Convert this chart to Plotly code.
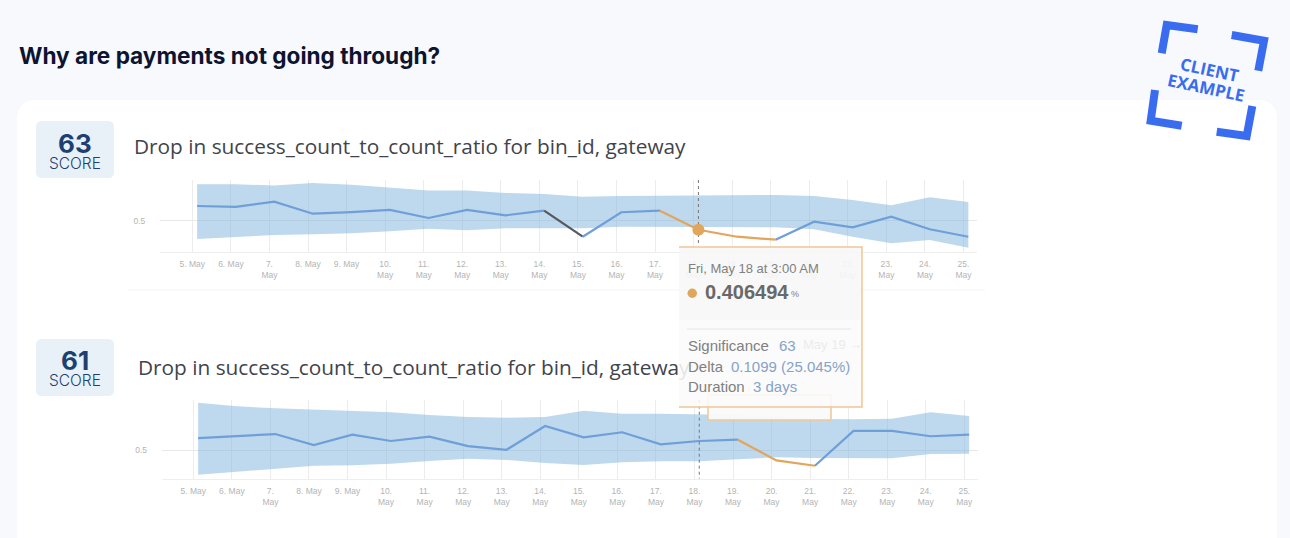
import plotly.graph_objects as go
from plotly.subplots import make_subplots

days = [5, 6, 7, 8, 9, 10, 11, 12, 13, 14, 15, 16, 17, 18, 19, 20, 21, 22, 23, 24, 25]
tick_labels = ['5. May', '6. May', '7.<br>May', '8. May', '9. May', '10.<br>May', '11.<br>May',
               '12.<br>May', '13.<br>May', '14.<br>May', '15.<br>May', '16.<br>May', '17.<br>May',
               '18.<br>May', '19.<br>May', '20.<br>May', '21.<br>May', '22.<br>May', '23.<br>May',
               '24.<br>May', '25.<br>May']

ratio_1 = [.661, .651, .708, .578, .594, .618, .532, .618, .561, .611, .331,
           .594, .611, .406, .331, .299, .492, .432, .546, .411, .331]
upper_1 = [.895, .895, .880, .909, .890, .858, .826, .826, .801, .790, .761,
           .769, .772, .772, .776, .780, .769, .726, .669, .755, .704]
lower_1 = [.306, .325, .349, .357, .368, .389, .417, .400, .422, .422, .422,
           .439, .439, .439, .432, .432, .411, .331, .260, .296, .213]

ratio_2 = [.632, .657, .675, .557, .668, .600, .646, .546, .506, .761, .640,
           .694, .565, .600, .614, .392, .334, .708, .708, .651, .668]
upper_2 = [1.012, .973, .952, .937, .919, .909, .880, .858, .851, .858, .926,
           .894, .894, .890, .880, .861, .837, .833, .840, .909, .869]
lower_2 = [.238, .270, .310, .334, .339, .356, .385, .410, .396, .363, .342,
           .371, .382, .382, .403, .425, .417, .414, .414, .460, .463]

BLUE = '#6f9fd8'
ORANGE = '#e2a55c'
DARK = '#55585f'
NAVY = '#1f3f70'
STAMP = '#3a6cf0'
W, H = 1290, 538

ticks = [f'2018-05-{d:02d}' for d in days]
points = [f'2018-05-{d:02d} 03:00' for d in days]


def rounded(x0, y0, x1, y1, r):
    """Rounded rectangle path, pixels in, paper coordinates out"""
    nodes = [('M', x0+r, y0), ('L', x1-r, y0), ('Q', x1, y0), ('', x1, y0+r), ('L', x1, y1-r), ('Q', x1, y1), ('', x1-r, y1),
             ('L', x0+r, y1), ('Q', x0, y1), ('', x0, y1-r), ('L', x0, y0+r), ('Q', x0, y0), ('', x0+r, y0)]
    return ' '.join(f'{c} {x/W:.5f} {1-y/H:.5f}' for c, x, y in nodes) + ' Z'


def add_chart(fig, row, ratio, upper, lower, segments):
    """Band, coloured line segments for one metric"""
    fig.add_trace(go.Scatter(x=points, y=lower, mode='lines', line=dict(width=0), showlegend=False), row=row, col=1)
    fig.add_trace(go.Scatter(x=points, y=upper, mode='lines', line=dict(width=0), fill='tonexty',
                             fillcolor='rgba(130,180,220,0.52)', showlegend=False), row=row, col=1)
    for start, end, color in segments:
        fig.add_trace(go.Scatter(x=points[start:end+1], y=ratio[start:end+1], mode='lines',
                                 line=dict(color=color, width=2.2), showlegend=False), row=row, col=1)


fig = make_subplots(rows=2, cols=1)

add_chart(fig, 1, ratio_1, upper_1, lower_1,
          [(0, 9, BLUE), (9, 10, DARK), (10, 12, BLUE), (12, 15, ORANGE), (15, 20, BLUE)])
add_chart(fig, 2, ratio_2, upper_2, lower_2,
          [(0, 14, BLUE), (14, 16, ORANGE), (16, 20, BLUE)])

# dotted cursor at May 18 in both charts
fig.add_trace(go.Scatter(x=[points[13], points[13]], y=[.94, .263], mode='lines',
                         line=dict(color='#777', width=1, dash='dot'), showlegend=False), row=1, col=1)
fig.add_trace(go.Scatter(x=[points[13], points[13]], y=[1.044, .195], mode='lines',
                         line=dict(color='#777', width=1, dash='dot'), showlegend=False), row=2, col=1)
fig.add_trace(go.Scatter(x=[points[13]], y=[ratio_1[13]], mode='markers',
                         marker=dict(color=ORANGE, size=12), showlegend=False), row=1, col=1)

axis_x = dict(type='date', tickmode='array', tickvals=ticks, ticktext=tick_labels, showgrid=True,
              gridcolor='#ececec', gridwidth=1, showline=True, linecolor='#eeeeee', zeroline=False,
              ticks='outside', ticklen=4, tickcolor='rgba(0,0,0,0)',
              tickfont=dict(family='Liberation Sans', size=8.5, color='#b4b4b4'), tickangle=0)
axis_y = dict(tickmode='array', tickvals=[0.5], ticktext=['0.5'], showgrid=True, gridcolor='#e8e8e8',
              zeroline=False, showline=False, ticks='outside', ticklen=12, tickcolor='rgba(0,0,0,0)',
              tickfont=dict(family='Liberation Sans', size=8.5, color='#b4b4b4'))

fig.update_xaxes(axis_x)
fig.update_yaxes(axis_y)
fig.update_layout(
    xaxis=dict(domain=[160/W, 977/W], range=['2018-05-04 03:53', '2018-05-25 08:24']),
    yaxis=dict(domain=[1-251.7/H, 1-180/H], range=[.17, .94]),
    xaxis2=dict(domain=[161.7/W, 977.7/W], range=['2018-05-04 04:19', '2018-05-25 08:20']),
    yaxis2=dict(domain=[1-478.7/H, 1-399.7/H], range=[.195, 1.044]),
    # extra axes in page pixels for the page furniture
    xaxis3=dict(domain=[0, 1], range=[0, W], visible=False, anchor='y3', showgrid=False, zeroline=False),
    yaxis3=dict(domain=[0, 1], range=[H, 0], visible=False, anchor='x3', showgrid=False, zeroline=False),
)

# second heading goes under the tooltip, so it has to be a trace and not an annotation
fig.add_trace(go.Scatter(x=[138], y=[370], mode='text', text=['Drop in success_count_to_count_ratio for bin_id, gateway'],
                         textposition='middle right', xaxis='x3', yaxis='y3', showlegend=False,
                         textfont=dict(family='Open Sans', size=20.8, color='#3f444c')))

below = [
    dict(type='path', path=rounded(17, 100, 1277, 580, 20), fillcolor='white', line_width=0),
    dict(type='path', path=rounded(36, 121, 114, 178, 6), fillcolor='#e8f1f7', line_width=0),
    dict(type='path', path=rounded(36, 339, 114, 396, 6), fillcolor='#e8f1f7', line_width=0),
    dict(type='line', x0=128/W, x1=985/W, y0=1-290/H, y1=1-290/H, line=dict(color='#f4f4f4', width=1)),
]
for s in below:
    s.update(xref='paper', yref='paper', layer='below')

above = [
    # tooltip behind
    dict(type='rect', x0=708, x1=831, y0=395, y1=420, fillcolor='rgba(250,250,250,0.95)',
         line=dict(color='#eec794', width=1.5)),
    # tooltip
    dict(type='rect', x0=679, x1=862, y0=247, y1=407, fillcolor='rgba(250,250,250,0.88)', line_width=0),
    dict(type='rect', x0=679, x1=862, y0=247, y1=320, fillcolor='rgba(240,240,240,0.25)', line_width=0),
    dict(type='path', path='M 679 247 L 862 247 L 862 407 L 679 407', fillcolor='rgba(0,0,0,0)',
         line=dict(color='#eec794', width=1.5)),
    dict(type='line', x0=687, x1=851, y0=329, y1=329, line=dict(color='#e6e6e6', width=1)),
    dict(type='circle', x0=687.5, x1=697, y0=288.5, y1=298, fillcolor=ORANGE, line_width=0),
    # stamp corners
    dict(type='path', path='M 1197.7 29.3 L 1166.7 25 L 1161.7 53.3', fillcolor='rgba(0,0,0,0)', line=dict(color=STAMP, width=8)),
    dict(type='path', path='M 1231.7 35 L 1264 40.7 L 1258.3 70.7', fillcolor='rgba(0,0,0,0)', line=dict(color=STAMP, width=8)),
    dict(type='path', path='M 1155 90 L 1150.7 120.7 L 1181.7 125.7', fillcolor='rgba(0,0,0,0)', line=dict(color=STAMP, width=8)),
    dict(type='path', path='M 1252.3 106 L 1246.7 136 L 1216.7 131.7', fillcolor='rgba(0,0,0,0)', line=dict(color=STAMP, width=8)),
]
for s in above:
    s.update(xref='x3', yref='y3', layer='above')

LABEL = dict(family='Liberation Sans', color='#808080')
VALUE = dict(family='Liberation Sans', color='#86a2c8')
texts = [
    (18, 55.5, 'Why are payments not going through?', dict(family='Inter', size=22.6, color='#0d1430', weight=700), 'left', 0),
    (133, 146, 'Drop in success_count_to_count_ratio for bin_id, gateway', dict(family='Open Sans', size=20.8, color='#3f444c'), 'left', 0),
    (75, 143, '<b>63</b>', dict(family='Inter', size=26, color=NAVY), 'center', 0),
    (75, 163, 'SCORE', dict(family='Inter', size=15.5, color=NAVY, weight=300), 'center', 0),
    (75, 360, '<b>61</b>', dict(family='Inter', size=26, color=NAVY), 'center', 0),
    (75, 380, 'SCORE', dict(family='Inter', size=15.5, color=NAVY, weight=300), 'center', 0),
    (687, 268, 'Fri, May 18 at 3:00 AM', dict(LABEL, size=13), 'left', 0),
    (704, 292, '<b>0.406494</b>', dict(family='Liberation Sans', size=20, color='#696969'), 'left', 0),
    (790, 294, '%', dict(LABEL, size=9), 'left', 0),
    (802, 344, 'May 19 →', dict(family='Liberation Sans', size=13, color='#ebebeb'), 'left', 0),
    (687, 345, 'Significance', dict(LABEL, size=15), 'left', 0),
    (778, 345, '63', dict(VALUE, size=15), 'left', 0),
    (687, 366, 'Delta', dict(LABEL, size=15), 'left', 0),
    (730, 366, '0.1099 (25.045%)', dict(VALUE, size=15), 'left', 0),
    (687, 386, 'Duration', dict(LABEL, size=15), 'left', 0),
    (752, 386, '3 days', dict(VALUE, size=15), 'left', 0),
    (1209, 69, '<b>CLIENT</b>', dict(family='Open Sans', size=17, color=STAMP), 'center', 12),
    (1206, 87, '<b>EXAMPLE</b>', dict(family='Open Sans', size=17, color=STAMP), 'center', 12),
]
annotations = [dict(x=x, y=y, text=t, font=f, xanchor=a, yanchor='middle', textangle=ang, showarrow=False,
                    xref='x3', yref='y3', borderpad=0) for x, y, t, f, a, ang in texts]

fig.update_layout(width=W, height=H, margin=dict(l=0, r=0, t=0, b=0), paper_bgcolor='#f7f9fd',
                  plot_bgcolor='rgba(0,0,0,0)', shapes=below+above, annotations=annotations, showlegend=False)

fig.write_html('out.html', config=dict(displayModeBar=False),
               post_script="document.body.style.margin='0';document.body.style.background='#f7f9fd';")
